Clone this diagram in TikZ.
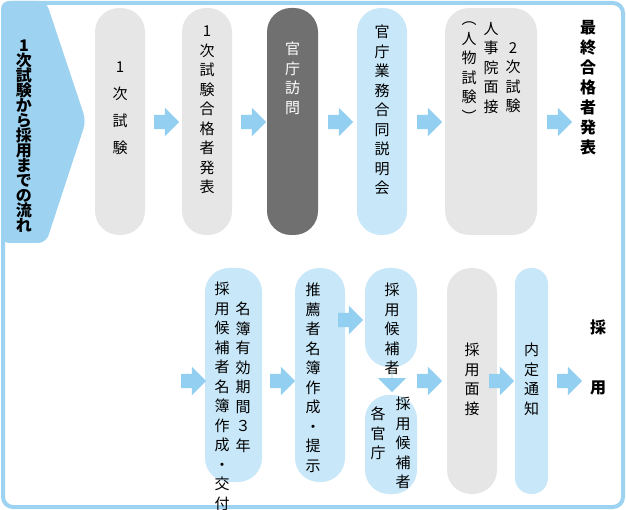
\documentclass[tikz,border=0pt]{standalone}
\usepackage{fontspec}
\newfontfamily\jp{Noto Sans CJK JP}
\usetikzlibrary{shapes.arrows}
\definecolor{frameblue}{HTML}{9DD3F0}
\definecolor{pillblue}{HTML}{C8E7F8}
\definecolor{pillgray}{HTML}{E6E6E6}
\definecolor{pilldark}{HTML}{707070}
\definecolor{arrowblue}{HTML}{92CFF0}
\tikzset{
  pill/.style={rounded corners=24pt, draw=none, inner sep=0pt},
  vtext/.style={align=center, inner sep=0pt, anchor=north, font=\jp\fontsize{15}{19.5}\selectfont},
  btext/.style={align=center, inner sep=0pt, anchor=north, font=\jp\bfseries\fontsize{16}{15}\selectfont},
  blockarrow/.style={single arrow, fill=arrowblue, draw=none, minimum height=25pt,
    single arrow head extend=7pt, minimum width=28pt, inner xsep=0pt, inner ysep=7pt},
}
\begin{document}
\lineskiplimit=-30pt\relax
\lineskip=0pt\relax
\begin{tikzpicture}[x=1pt,y=-1pt]
\useasboundingbox (0,0) rectangle (626,510);
% frame and banner
\draw[frameblue, line width=4pt, rounded corners=10pt] (3,3) rectangle (623,507);
\fill[frameblue, rounded corners=8pt] (1,1) -- (46,1) -- (86,121) -- (46,243) -- (1,243) -- cycle;
\node[btext] (title) at (24,40) {1\\次\\試\\験\\か\\ら\\採\\用\\ま\\で\\の\\流\\れ};

% top row
\fill[pill, pillgray] (95,8) rectangle (145,235);
\node[vtext, font=\jp\fontsize{15}{27}\selectfont] (t1) at (120,62) {1\\次\\試\\験};
\fill[pill, pillgray] (182,8) rectangle (232,235);
\node[vtext] (t2) at (207,26) {1\\次\\試\\験\\合\\格\\者\\発\\表};
\fill[pill, pilldark] (267,8) rectangle (318,235);
\node[vtext, text=white] (t3) at (292.5,42) {官\\庁\\訪\\問};
\fill[pill, pillblue] (357,8) rectangle (407,235);
\node[vtext] (t4) at (382,25) {官\\庁\\業\\務\\合\\同\\説\\明\\会};
\fill[pill, pillgray] (445,8) rectangle (537,235);
\node[vtext] (t5a) at (513,42) {2\\次\\試\\験};
\node[vtext] (t5b) at (491,22) {人\\事\\院\\面\\接};
\node[vtext] (t5c) at (469,22) {︵\\人\\物\\試\\験\\︶};
\node[btext, font=\jp\bfseries\fontsize{16}{20}\selectfont] (final) at (588,20) {最\\終\\合\\格\\者\\発\\表};
\foreach \x [count=\i] in {163,250,337,426,556}
  \node[blockarrow] (ta\i) at (\x,122) {};

% bottom row
\fill[pill, pillblue] (205,268) rectangle (262,482);
\node[vtext] (b1a) at (243,302) {名\\簿\\有\\効\\期\\間\\３\\年};
\node[vtext] (b1b) at (222,282) {採\\用\\候\\補\\者\\名\\簿\\作\\成\\・\\交\\付};
\fill[pill, pillblue] (295,268) rectangle (345,482);
\node[vtext] (b2) at (313,283) {推\\薦\\者\\名\\簿\\作\\成\\・\\提\\示};
\fill[pill, pillblue] (365,268) rectangle (417,367);
\node[vtext] (b3) at (392,283) {採\\用\\候\\補\\者};
\fill[pill, pillblue] (365,395) rectangle (417,494);
\node[vtext] (b4a) at (403,397) {採\\用\\候\\補\\者};
\node[vtext] (b4b) at (378,407) {各\\官\\庁};
\fill[pill, pillgray] (447,268) rectangle (497,494);
\node[vtext] (b5) at (472,343) {採\\用\\面\\接};
\fill[pill, pillblue, rounded corners=16pt] (515,268) rectangle (548,494);
\node[vtext] (b6) at (531.5,343) {内\\定\\通\\知};
\node[btext, font=\jp\bfseries\fontsize{16}{60}\selectfont] (hire) at (598,320) {採\\用};
\foreach \x [count=\i] in {190,279,426,498,566}
  \node[blockarrow] (ba\i) at (\x,381) {};
\node[blockarrow] (ba6) at (347,320) {};
\node[blockarrow, shape border rotate=270, minimum height=22pt] (ba7) at (392,381) {};
\end{tikzpicture}
\end{document}
